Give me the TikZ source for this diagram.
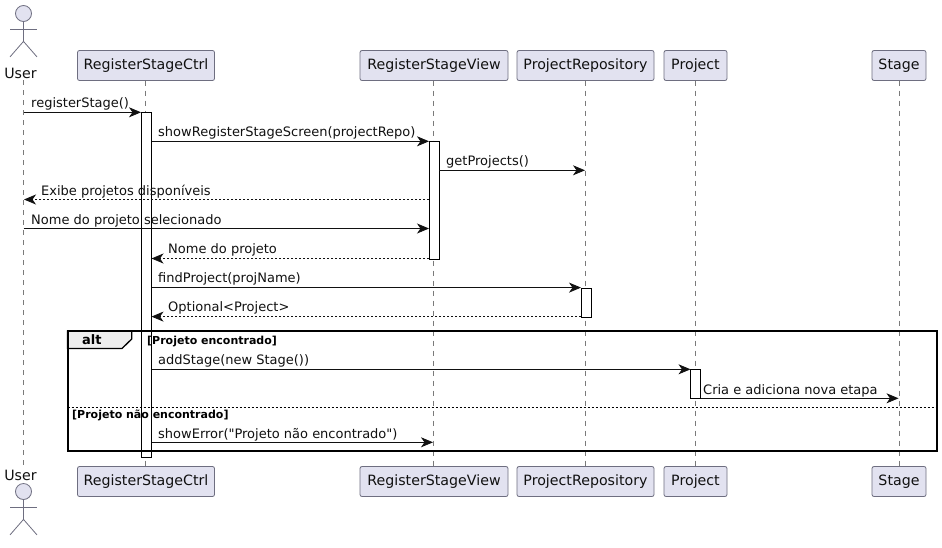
\documentclass[tikz,border=0pt]{standalone}
\usepackage{fontspec}
\setmainfont{DejaVu Sans}[Ligatures=TeXOff]
\usetikzlibrary{arrows.meta,calc}
\definecolor{partfill}{HTML}{E2E2F0}
\definecolor{partline}{HTML}{6E6E80}
\definecolor{lifeline}{HTML}{7A7A7A}
\definecolor{tabfill}{HTML}{EEEEEE}
\definecolor{inktext}{HTML}{111111}
\tikzset{
  x=1pt,y=-1pt,
  part/.style={draw=partline,fill=partfill,rounded corners=2pt,line width=0.8pt,minimum height=30pt,inner sep=0pt,text=inktext,font=\fontsize{14.2}{16}\selectfont,text height=11.5pt,text depth=3pt,anchor=center},
  lifel/.style={draw=lifeline,line width=0.8pt,dash pattern=on 5pt off 5pt},
  actorline/.style={draw=partline,line width=0.8pt},
  head/.style={circle,draw=partline,fill=partfill,line width=0.8pt,minimum size=16pt,inner sep=0pt},
  actorlabel/.style={inner sep=0pt,text=inktext,font=\fontsize{14.2}{16}\selectfont},
  bar/.style={draw=black,fill=white,line width=0.8pt,minimum width=10pt,inner sep=0pt,anchor=north},
  msg/.style={draw=inktext,line width=0.8pt,-{Stealth[length=12pt,width=10pt,inset=3.5pt]}},
  ret/.style={msg,dash pattern=on 2pt off 2pt},
  msgtext/.style={inner sep=0pt,anchor=base west,text=inktext,font=\fontsize{13}{15}\selectfont},
  guard/.style={inner sep=0pt,anchor=base west,text=black,font=\fontsize{11}{13}\selectfont\bfseries},
  frameline/.style={draw=black,line width=2pt},
}
\newcommand{\stickman}[2]{%
  \node[head] (#2h) at (#1) {};
  \draw[actorline] (#2h.south) -- ++(0,19.5) coordinate (#2hip);
  \draw[actorline] ($(#2h.south)+(-13.5,7.5)$) -- ++(27,0);
  \draw[actorline] ($(#2hip)+(-13.5,15.5)$) -- (#2hip) -- ($(#2hip)+(13.5,15.5)$);
}
\begin{document}
\begin{tikzpicture}
\useasboundingbox (0,0) rectangle (942,547);
\fill[white] (0,0) rectangle (942,547);

% participants
\node[part,minimum width=137pt] (ctrlT) at (146,65.5) {RegisterStageCtrl};
\node[part,minimum width=148pt] (viewT) at (434,65.5) {RegisterStageView};
\node[part,minimum width=137pt] (repoT) at (585.5,65.5) {ProjectRepository};
\node[part,minimum width=63pt] (projT) at (695.5,65.5) {Project};
\node[part,minimum width=54pt] (stagT) at (899,65.5) {Stage};
\node[part,minimum width=137pt] (ctrlB) at (146,481.5) {RegisterStageCtrl};
\node[part,minimum width=148pt] (viewB) at (434,481.5) {RegisterStageView};
\node[part,minimum width=137pt] (repoB) at (585.5,481.5) {ProjectRepository};
\node[part,minimum width=63pt] (projB) at (695.5,481.5) {Project};
\node[part,minimum width=54pt] (stagB) at (899,481.5) {Stage};

% actors
\stickman{23.5,13.5}{ua}
\node[actorlabel] (userT) at (20.5,73) {User};
\stickman{23.5,491.5}{ub}
\node[actorlabel] (userB) at (20.5,475) {User};

% lifelines
\coordinate (uTop) at (23.5,80);
\coordinate (uBot) at (23.5,466);
\draw[lifel] (uTop) -- (uBot);
\coordinate (lc1) at (145.5,80.5); \coordinate (lc2) at (145.5,466.5);
\coordinate (lv1) at (433.5,80.5); \coordinate (lv2) at (433.5,466.5);
\coordinate (lr1) at (585.5,80.5); \coordinate (lr2) at (585.5,466.5);
\coordinate (lp1) at (695.5,80.5); \coordinate (lp2) at (695.5,466.5);
\coordinate (ls1) at (899.5,80.5); \coordinate (ls2) at (899.5,466.5);
\draw[lifel] (lc1) -- (lc2);
\draw[lifel] (lv1) -- (lv2);
\draw[lifel] (lr1) -- (lr2);
\draw[lifel] (lp1) -- (lp2);
\draw[lifel] (ls1) -- (ls2);

% activation bars
\node[bar,minimum height=345pt] (actC) at (146.5,112.3) {};
\node[bar,minimum height=117.5pt] (actV) at (434,141.3) {};
\node[bar,minimum height=29pt] (actR) at (586,287.6) {};
\node[bar,minimum height=29pt] (actP) at (695.5,369.3) {};

% alt frame
\filldraw[frameline,fill=tabfill,line width=1.3pt] (67.5,331) -- (131.7,331) -- (131.7,339) -- (122,348.5) -- (67.5,348.5) -- cycle;
\draw[frameline] (67.5,331) rectangle (936.5,450.5);
\draw[draw=black,line width=0.8pt,dash pattern=on 2pt off 2pt] (67.5,407.5) -- (936.5,407.5);
\node[inner sep=0pt,anchor=base west,font=\fontsize{13}{15}\selectfont\bfseries] (altlab) at (82,344) {alt};
\node[guard] (g1) at (147,344) {[Projeto encontrado]};
\node[guard] (g2) at (72,418) {[Projeto não encontrado]};

% message ends
\coordinate (m1a) at (23.5,112.3);  \coordinate (m1b) at (141,112.3);
\coordinate (m2a) at (151.5,141.3); \coordinate (m2b) at (429,141.3);
\coordinate (m3a) at (439,170.3);   \coordinate (m3b) at (585,170.3);
\coordinate (m4a) at (429,199.5);   \coordinate (m4b) at (24,199.5);
\coordinate (m5a) at (23.5,228.5);  \coordinate (m5b) at (429,228.5);
\coordinate (m6a) at (429,258.5);   \coordinate (m6b) at (151.5,258.5);
\coordinate (m7a) at (151.5,287.6); \coordinate (m7b) at (581,287.6);
\coordinate (m8a) at (581,316.6);   \coordinate (m8b) at (151.5,316.6);
\coordinate (m9a) at (151.5,369.3); \coordinate (m9b) at (690.5,369.3);
\coordinate (m10a) at (700.5,398.3);\coordinate (m10b) at (898.5,398.3);
\coordinate (m11a) at (151.5,442.3);\coordinate (m11b) at (433,442.3);

\draw[msg] (m1a) -- (m1b);
\draw[msg] (m2a) -- (m2b);
\draw[msg] (m3a) -- (m3b);
\draw[ret] (m4a) -- (m4b);
\draw[msg] (m5a) -- (m5b);
\draw[ret] (m6a) -- (m6b);
\draw[msg] (m7a) -- (m7b);
\draw[ret] (m8a) -- (m8b);
\draw[msg] (m9a) -- (m9b);
\draw[msg] (m10a) -- (m10b);
\draw[msg] (m11a) -- (m11b);

% message labels
\node[msgtext] (t1) at (31,107) {registerStage()};
\node[msgtext] (t2) at (158,136) {showRegisterStageScreen(projectRepo)};
\node[msgtext] (t3) at (446,165) {getProjects()};
\node[msgtext] (t4) at (41,195) {Exibe projetos disponíveis};
\node[msgtext] (t5) at (31,224) {Nome do projeto selecionado};
\node[msgtext] (t6) at (168,253) {Nome do projeto};
\node[msgtext] (t7) at (158,282) {findProject(projName)};
\node[msgtext] (t8) at (168,311) {Optional<Project>};
\node[msgtext] (t9) at (158,364) {addStage(new Stage())};
\node[msgtext] (t10) at (703,394) {Cria e adiciona nova etapa};
\node[msgtext] (t11) at (158,438) {showError("Projeto não encontrado")};
\end{tikzpicture}
\end{document}
